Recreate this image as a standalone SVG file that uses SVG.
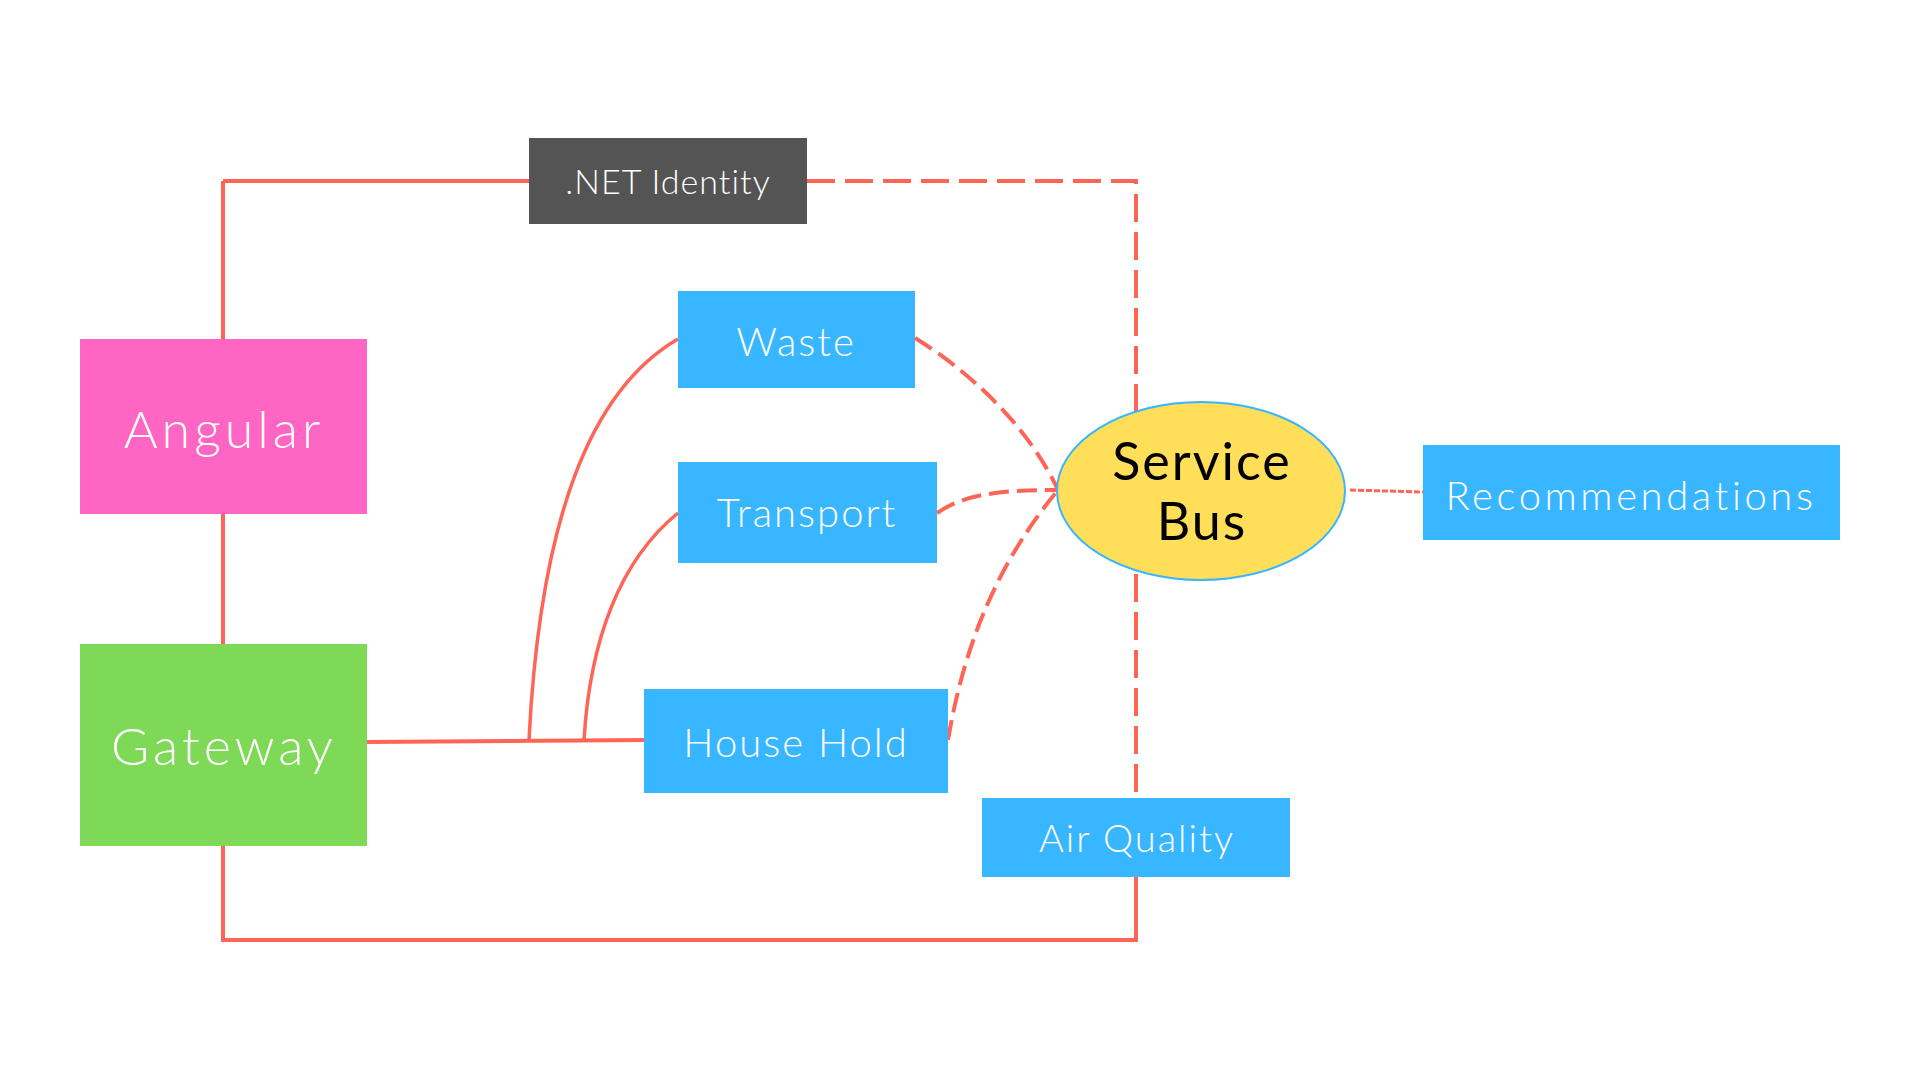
<svg xmlns="http://www.w3.org/2000/svg" width="1920" height="1080" viewBox="0 0 1920 1080">
<style>
  .ln{fill:none;stroke:#FF6557;stroke-width:4}
  .cv{fill:none;stroke:#FF6557;stroke-width:3.5}
  .dl{fill:none;stroke:#FF6557;stroke-width:4;stroke-dasharray:28 10}
  .dc{fill:none;stroke:#FF6557;stroke-width:4;stroke-dasharray:20 8}
  .dt{fill:none;stroke:#FF6557;stroke-width:3;stroke-dasharray:6 2}
  .t{font-family:"Lato","Open Sans","Liberation Sans",sans-serif;font-weight:300;fill:#fff;text-anchor:middle}
</style>
<rect width="1920" height="1080" fill="#fff"/>
<g id="connectors">
  <path class="ln" d="M223,181 H529"/>
  <path class="ln" d="M223,181 V339"/>
  <path class="ln" d="M223,514 V644"/>
  <path class="ln" d="M223,846 V940 H1136 V877"/>
  <path class="ln" d="M367,742 L644,740"/>
  <path class="cv" d="M529,740 C540,520 590,390 678,339"/>
  <path class="cv" d="M584,740 C590,640 620,560 678,513"/>
  <path class="dl" d="M807,181 H1136 V798"/>
  <path class="dc" d="M915,338 C975,375 1030,430 1058,490"/>
  <path class="dc" d="M937,513 C965,494 1000,490 1058,490"/>
  <path class="dc" d="M948,740 C965,640 1000,560 1058,490"/>
  <path class="dt" d="M1350,490 L1423,492"/>
</g>
<g id="identity">
  <rect x="529" y="138" width="278" height="86" fill="#545454"/>
  <text class="t" x="668" y="194" font-size="34" letter-spacing="1">.NET Identity</text>
</g>
<g id="angular">
  <rect x="80" y="339" width="287" height="175" fill="#FF66C4"/>
  <text class="t" x="224" y="448" font-size="52" letter-spacing="4">Angular</text>
</g>
<g id="gateway">
  <rect x="80" y="644" width="287" height="202" fill="#7ED957"/>
  <text class="t" x="224" y="765" font-size="52" letter-spacing="4">Gateway</text>
</g>
<g id="waste">
  <rect x="678" y="291" width="237" height="97" fill="#38B6FF"/>
  <text class="t" x="796" y="356" font-size="40" letter-spacing="2">Waste</text>
</g>
<g id="transport">
  <rect x="678" y="462" width="259" height="101" fill="#38B6FF"/>
  <text class="t" x="807" y="527" font-size="40" letter-spacing="2">Transport</text>
</g>
<g id="household">
  <rect x="644" y="689" width="304" height="104" fill="#38B6FF"/>
  <text class="t" x="796" y="757" font-size="40" letter-spacing="2">House Hold</text>
</g>
<g id="airquality">
  <rect x="982" y="798" width="308" height="79" fill="#38B6FF"/>
  <text class="t" x="1137" y="852" font-size="38" letter-spacing="2">Air Quality</text>
</g>
<g id="servicebus">
  <ellipse cx="1201" cy="491" rx="144" ry="89" fill="#FFDE59" stroke="#38B6FF" stroke-width="2"/>
  <text class="t" x="1202" y="480" font-size="52" letter-spacing="2" style="fill:#000;font-weight:400">Service</text>
  <text class="t" x="1202" y="540" font-size="52" letter-spacing="2" style="fill:#000;font-weight:400">Bus</text>
</g>
<g id="recommendations">
  <rect x="1423" y="445" width="417" height="95" fill="#38B6FF"/>
  <text class="t" x="1631" y="510" font-size="40" letter-spacing="3.6">Recommendations</text>
</g>
</svg>
